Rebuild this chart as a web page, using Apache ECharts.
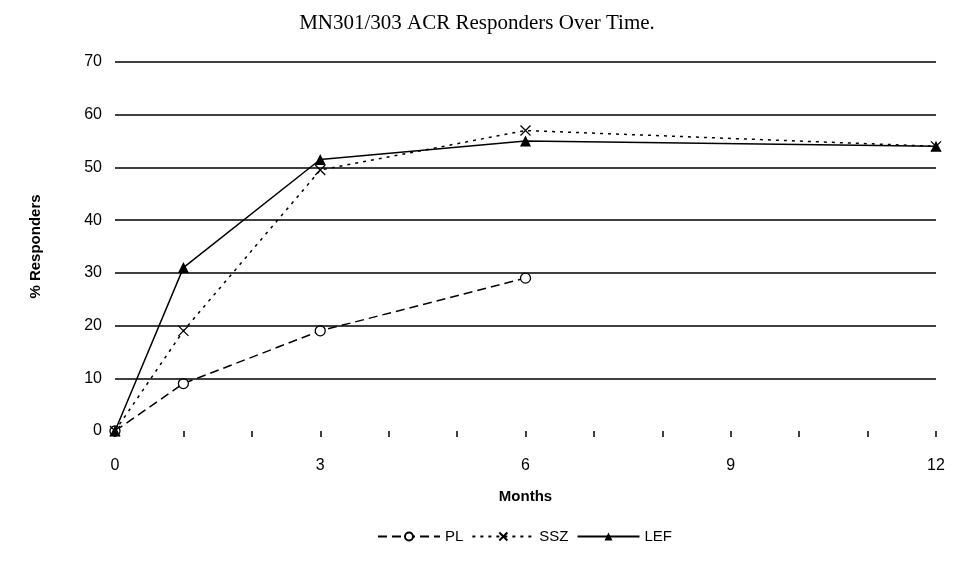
<!DOCTYPE html>
<html>
<head>
<meta charset="utf-8">
<script src="https://cdn.jsdelivr.net/npm/echarts@6/dist/echarts.min.js"></script>
<style>
  html, body { margin: 0; padding: 0; background: #fff; }
  #chart { width: 954px; height: 567px; }
</style>
</head>
<body>
<div id="chart"></div>
<script>
// months of each visit
var months = [0, 1, 3, 6, 12];
// % responders per arm
var plValues = [0, 9, 19, 29];
var sszValues = [0, 19, 49.5, 57, 54];
var lefValues = [0, 31, 51.5, 55, 54];
// horizontal rules drawn across the plot
var gridValues = [10, 20, 30, 40, 50, 60, 70];

function pairs(vals) {
    return vals.map(function (v, i) { return [months[i], v]; });
}

var crossPath = 'path://M0,0L10,10M10,0L0,10';

var chart = echarts.init(document.getElementById('chart'));
chart.setOption({
    animation: false,
    backgroundColor: '#fff',
    title: {
        text: 'MN301/303 ACR Responders Over Time.',
        left: 'center',
        top: 8,
        textStyle: { fontFamily: 'Liberation Serif', fontWeight: 'normal', fontSize: 21, color: '#000' }
    },
    legend: {
        bottom: 18,
        left: 372,
        itemWidth: 62,
        itemHeight: 10,
        itemGap: 8,
        textStyle: { fontFamily: 'Liberation Sans', fontSize: 15, color: '#000' },
        data: ['PL', 'SSZ', 'LEF']
    },
    grid: { left: 115, right: 18, top: 62, bottom: 136 },
    xAxis: {
        type: 'value',
        min: 0,
        max: 12,
        interval: 1,
        name: 'Months',
        nameLocation: 'middle',
        nameGap: 58,
        nameTextStyle: { fontFamily: 'Liberation Sans', fontWeight: 'bold', fontSize: 15, color: '#000' },
        axisLine: { show: false },
        axisTick: { show: true, length: 6, lineStyle: { color: '#000', width: 1.5 } },
        axisLabel: {
            margin: 27,
            fontFamily: 'Liberation Sans', fontSize: 16, color: '#000',
            formatter: function (v) { return v % 3 === 0 ? String(v) : ''; }
        },
        splitLine: { show: false }
    },
    yAxis: {
        type: 'value',
        min: 0,
        max: 70,
        interval: 10,
        name: '% Responders',
        nameLocation: 'middle',
        nameGap: 72,
        nameTextStyle: { fontFamily: 'Liberation Sans', fontWeight: 'bold', fontSize: 15, color: '#000' },
        axisLine: { show: false },
        axisTick: { show: false },
        axisLabel: { margin: 13, fontFamily: 'Liberation Sans', fontSize: 16, color: '#000' },
        splitLine: { show: false }
    },
    series: [
        {
            name: 'grid',
            type: 'line',
            data: [],
            silent: true,
            markLine: {
                silent: true,
                symbol: 'none',
                label: { show: false },
                lineStyle: { color: '#000', width: 1.5, type: 'solid' },
                data: gridValues.map(function (v) { return { yAxis: v }; })
            },
            z: 1
        },
        {
            name: 'PL',
            type: 'line',
            data: pairs(plValues),
            symbol: 'circle',
            symbolSize: 10,
            showAllSymbol: true,
            lineStyle: { color: '#000', width: 1.5, type: [9, 5] },
            itemStyle: { color: '#fff', borderColor: '#000', borderWidth: 1.3 },
            z: 3
        },
        {
            name: 'SSZ',
            type: 'line',
            data: pairs(sszValues),
            symbol: crossPath,
            symbolSize: 10,
            showAllSymbol: true,
            lineStyle: { color: '#000', width: 1.5, type: [3, 5] },
            itemStyle: { color: 'none', borderColor: '#000', borderWidth: 1.3 },
            z: 4
        },
        {
            name: 'LEF',
            type: 'line',
            data: pairs(lefValues),
            symbol: 'triangle',
            symbolSize: 11,
            showAllSymbol: true,
            lineStyle: { color: '#000', width: 1.5, type: 'solid' },
            itemStyle: { color: '#000' },
            z: 5
        }
    ]
});
</script>
</body>
</html>
